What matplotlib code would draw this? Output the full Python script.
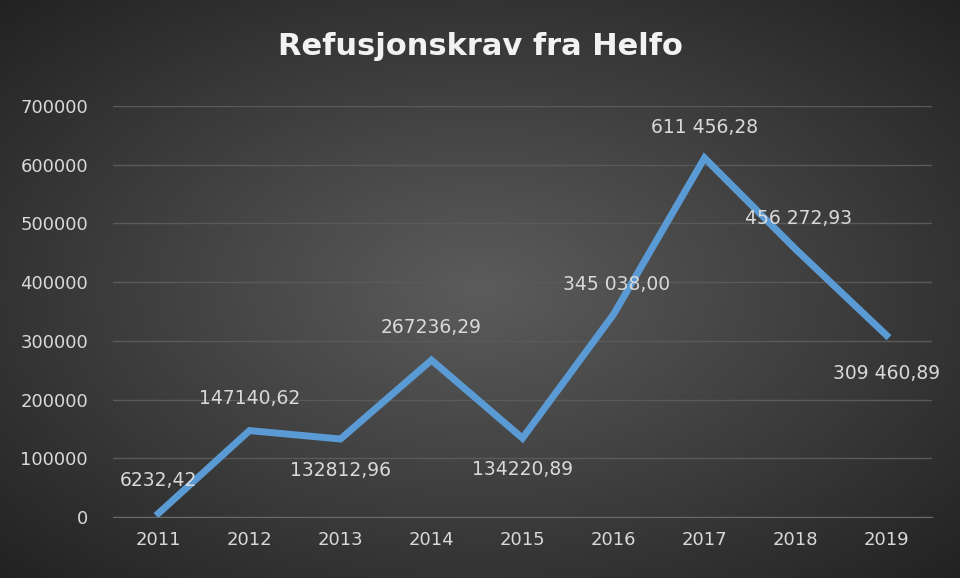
import numpy as np
import matplotlib
matplotlib.use('Agg')
import matplotlib.pyplot as plt

years = ['2011', '2012', '2013', '2014', '2015', '2016', '2017', '2018', '2019']
values = [6232.42, 147140.62, 132812.96, 267236.29, 134220.89, 345038.00, 611456.28, 456272.93, 309460.89]
labels = ['6232,42', '147140,62', '132812,96', '267236,29', '134220,89',
          '345 038,00', '611 456,28', '456 272,93', '309 460,89']
# label offsets in pixels (dx, dy)
offsets = [(0, 33), (0, 32), (0, -31), (0, 33), (0, -31), (3, 30), (0, 30), (3, 31), (0, -38)]

fig = plt.figure(figsize=(9.6, 5.78), dpi=100)

# radial gradient background
bg = fig.add_axes([0, 0, 1, 1])
yy, xx = np.mgrid[-1:1:300j, -1:1:500j]
r = np.sqrt(xx**2 + yy**2)
g = np.clip(0.36 - 0.16 * r, 0.12, 0.4)
bg.imshow(np.dstack([g, g, g]), aspect='auto', extent=[0, 1, 0, 1])
bg.axis('off')

ax = fig.add_axes([113/960, 61/578, 819/960, 411/578])
ax.patch.set_alpha(0)
x = np.arange(len(years))
ax.plot(x, values, color='#5b9bd5', linewidth=5, solid_joinstyle='miter', zorder=3)
for xi, v, lab, (dx, dy) in zip(x, values, labels, offsets):
    ax.annotate(lab, (xi, v), xytext=(dx, dy), textcoords='offset pixels',
                ha='center', va='center', color='#d9d9d9', fontsize=13.5)

ax.set_xlim(-0.5, len(years) - 0.5)
ax.set_ylim(0, 700000)
ax.set_yticks(np.arange(0, 700001, 100000))
ax.set_yticklabels([str(v) for v in range(0, 700001, 100000)])
ax.set_xticks(x)
ax.set_xticklabels(years)
ax.grid(axis='y', color='#5a5a5a', linewidth=1)
ax.set_axisbelow(True)
for s in ax.spines.values():
    s.set_visible(False)
ax.spines['bottom'].set_visible(True)
ax.spines['bottom'].set_color('#6a6a6a')
ax.tick_params(length=0, colors='#d9d9d9', labelsize=13)
ax.tick_params(axis='y', pad=18)
ax.tick_params(axis='x', pad=10)

fig.text(0.5, 0.92, 'Refusjonskrav fra Helfo', ha='center', va='center',
         color='#f2f2f2', fontsize=22, fontweight='bold')

fig.savefig('out.png', dpi=100)
